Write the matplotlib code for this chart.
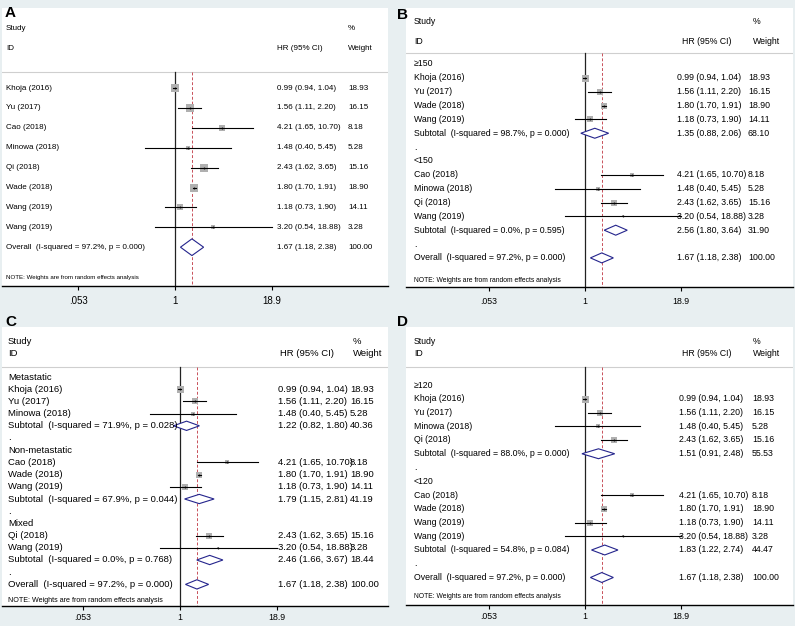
import numpy as np
import matplotlib
matplotlib.use("Agg")
import matplotlib.pyplot as plt
import matplotlib.transforms as mtransforms
from matplotlib.patches import Polygon
from matplotlib.ticker import NullLocator, FixedLocator, FixedFormatter

plt.rcParams['font.family'] = ['Liberation Sans', 'DejaVu Sans']

# ---------------- data ----------------
studies = ["Khoja (2016)", "Yu (2017)", "Cao (2018)", "Minowa (2018)",
           "Qi (2018)", "Wade (2018)", "Wang (2019)", "Wang (2019)"]
hr = [0.99, 1.56, 4.21, 1.48, 2.43, 1.80, 1.18, 3.20]
lo = [0.94, 1.11, 1.65, 0.40, 1.62, 1.70, 0.73, 0.54]
hi = [1.04, 2.20, 10.70, 5.45, 3.65, 1.91, 1.90, 18.88]
weight = [18.93, 16.15, 8.18, 5.28, 15.16, 18.90, 14.11, 3.28]

overall_hr, overall_lo, overall_hi, overall_w = 1.67, 1.18, 2.38, 100.00
overall_i2, overall_p = "97.2%", "0.000"

# panel A order
a_order = [0, 1, 2, 3, 4, 5, 6, 7]

# panel B
b_groups = ["\u2265150", "<150"]
b_members = [[0, 1, 5, 6], [2, 3, 4, 7]]
b_sub_hr = [1.35, 2.56]
b_sub_lo = [0.88, 1.80]
b_sub_hi = [2.06, 3.64]
b_sub_w = [68.10, 31.90]
b_sub_i2 = ["98.7%", "0.0%"]
b_sub_p = ["0.000", "0.595"]

# panel C
c_groups = ["Metastatic", "Non-metastatic", "Mixed"]
c_members = [[0, 1, 3], [2, 5, 6], [4, 7]]
c_sub_hr = [1.22, 1.79, 2.46]
c_sub_lo = [0.82, 1.15, 1.66]
c_sub_hi = [1.80, 2.81, 3.67]
c_sub_w = [40.36, 41.19, 18.44]
c_sub_i2 = ["71.9%", "67.9%", "0.0%"]
c_sub_p = ["0.028", "0.044", "0.768"]

# panel D
d_groups = ["\u2265120", "<120"]
d_members = [[0, 1, 3, 4], [2, 5, 6, 7]]
d_sub_hr = [1.51, 1.83]
d_sub_lo = [0.91, 1.22]
d_sub_hi = [2.48, 2.74]
d_sub_w = [55.53, 44.47]
d_sub_i2 = ["88.0%", "54.8%"]
d_sub_p = ["0.000", "0.084"]

tick_vals = [0.053, 1, 18.9]
tick_labels = [".053", "1", "18.9"]

# ---------------- layout ----------------
W, H = 795, 626
fig = plt.figure(figsize=(W / 100, H / 100), dpi=100)
fig.patch.set_facecolor('#e8eff1')

layouts = {
    'A': dict(box=(2, 8, 388, 286), letter=(5, 13), y0=88, s=19.9, study_y=28, id_y=48,
              line_y=72, note_y=277, null_x=175, ppl=33.0, fs=5.8, note_fs=4.4, tick_fs=7,
              x_id=6, x_hr=277, x_hrh=277, x_w=348, x_wh=348, dh=0.42, box_px=8.0, pad=4),
    'B': dict(box=(406, 8, 793, 287), letter=(397, 15), y0=64, s=13.85, study_y=22, id_y=42,
              line_y=53, note_y=280, null_x=585, ppl=32.7, fs=6.3, note_fs=4.9, tick_fs=6.3,
              x_id=414, x_hr=677, x_hrh=682, x_w=748, x_wh=753, dh=0.36, box_px=7.0, pad=4),
    'C': dict(box=(2, 327, 388, 606), letter=(5, 322), y0=377, s=12.2, study_y=341, id_y=353,
              line_y=367, note_y=600, null_x=180, ppl=33.0, fs=6.8, note_fs=5.1, tick_fs=6.3,
              x_id=8, x_hr=278, x_hrh=280, x_w=350, x_wh=353, dh=0.38, box_px=7.0, pad=2),
    'D': dict(box=(406, 327, 793, 605), letter=(397, 322), y0=385, s=13.75, study_y=341, id_y=353,
              line_y=367, note_y=597, null_x=585, ppl=32.7, fs=6.3, note_fs=4.9, tick_fs=6.3,
              x_id=414, x_hr=679, x_hrh=682, x_w=752, x_wh=753, dh=0.36, box_px=7.0, pad=2),
}


def ci_text(h, l, u):
    return f"{h:.2f} ({l:.2f}, {u:.2f})"


def build_rows_flat(order):
    rows = [('study', studies[i], hr[i], lo[i], hi[i], weight[i]) for i in order]
    rows.append(('overall', f"Overall  (I-squared = {overall_i2}, p = {overall_p})",
                 overall_hr, overall_lo, overall_hi, overall_w))
    return rows


def build_rows_groups(groups, members, shr, slo, shi, sw, si2, sp):
    rows = []
    for g, name in enumerate(groups):
        rows.append(('group', name, None, None, None, None))
        for i in members[g]:
            rows.append(('study', studies[i], hr[i], lo[i], hi[i], weight[i]))
        rows.append(('sub', f"Subtotal  (I-squared = {si2[g]}, p = {sp[g]})",
                     shr[g], slo[g], shi[g], sw[g]))
        rows.append(('blank', ".", None, None, None, None))
    rows.append(('overall', f"Overall  (I-squared = {overall_i2}, p = {overall_p})",
                 overall_hr, overall_lo, overall_hi, overall_w))
    return rows


def draw_panel(key, rows):
    lay = layouts[key]
    l, t, r, b = lay['box']
    ax = fig.add_axes([l / W, 1 - b / H, (r - l) / W, (b - t) / H])
    ax.set_facecolor('white')
    ax.set_xscale('log')
    ax.set_xlim(np.exp((l - lay['null_x']) / lay['ppl']), np.exp((r - lay['null_x']) / lay['ppl']))
    y0, s = lay['y0'], lay['s']

    def rowy(py):
        return (py - y0) / s

    ax.set_ylim(rowy(b), rowy(t))
    tr = mtransforms.blended_transform_factory(ax.transAxes, ax.transData)

    def fx(px):
        return (px - l) / (r - l)

    fs = lay['fs']
    ax.text(fx(lay['x_id']), rowy(lay['study_y']), "Study", transform=tr, va='center', ha='left', fontsize=fs)
    ax.text(fx(lay['x_id']), rowy(lay['id_y']), "ID", transform=tr, va='center', ha='left', fontsize=fs)
    ax.text(fx(lay['x_hrh']), rowy(lay['id_y']), "HR (95% CI)", transform=tr, va='center', ha='left', fontsize=fs)
    ax.text(fx(lay['x_wh']), rowy(lay['study_y']), "%", transform=tr, va='center', ha='left', fontsize=fs)
    ax.text(fx(lay['x_wh']), rowy(lay['id_y']), "Weight", transform=tr, va='center', ha='left', fontsize=fs)
    ax.axhline(rowy(lay['line_y']), color='#cfcfcf', lw=0.8)

    ax.plot([1, 1], [rowy(lay['line_y']), rowy(b)], color='#222222', lw=0.9, zorder=2)
    ax.plot([overall_hr, overall_hr], [rowy(lay['line_y']), rowy(b)], color='#c8505a', lw=0.7,
            ls=(0, (3, 2)), zorder=2)

    for k, (kind, label, h, lw_, hw, w) in enumerate(rows):
        y = k
        ax.text(fx(lay['x_id']), y, label, transform=tr, va='center', ha='left', fontsize=fs, zorder=5)
        if kind == 'study':
            side_pt = lay['box_px'] * np.sqrt(w / 18.93) * 0.72
            ax.scatter([h], [y], marker='s', s=side_pt ** 2, color='#b0b0b0', linewidths=0, zorder=3)
            ax.plot([lw_, hw], [y, y], color='black', lw=0.8, zorder=4)
            ax.scatter([h], [y], marker='o', s=1.8, color='black', linewidths=0, zorder=5)
        if kind in ('sub', 'overall'):
            dh = lay['dh']
            poly = Polygon([(lw_, y), (h, y - dh), (hw, y), (h, y + dh)], closed=True,
                           facecolor='white', edgecolor='#24248c', lw=0.8, zorder=4)
            ax.add_patch(poly)
        if kind in ('study', 'sub', 'overall'):
            ax.text(fx(lay['x_hr']), y, ci_text(h, lw_, hw), transform=tr, va='center', ha='left', fontsize=fs)
            ax.text(fx(lay['x_w']), y, f"{w:.2f}", transform=tr, va='center', ha='left', fontsize=fs)

    ax.text(fx(lay['x_id']), rowy(lay['note_y']), "NOTE: Weights are from random effects analysis",
            transform=tr, va='center', ha='left', fontsize=lay['note_fs'])

    for sp_ in ('top', 'left', 'right'):
        ax.spines[sp_].set_visible(False)
    ax.spines['bottom'].set_linewidth(1.0)
    ax.xaxis.set_major_locator(FixedLocator(tick_vals))
    ax.xaxis.set_major_formatter(FixedFormatter(tick_labels))
    ax.xaxis.set_minor_locator(NullLocator())
    ax.set_yticks([])
    ax.tick_params(axis='x', length=3, width=0.8, pad=lay['pad'], labelsize=lay['tick_fs'])

    lx, ly = lay['letter']
    fig.text(lx / W, 1 - ly / H, key, fontsize=11, fontweight='bold', ha='left', va='center')


draw_panel('A', build_rows_flat(a_order))
draw_panel('B', build_rows_groups(b_groups, b_members, b_sub_hr, b_sub_lo, b_sub_hi, b_sub_w, b_sub_i2, b_sub_p))
draw_panel('C', build_rows_groups(c_groups, c_members, c_sub_hr, c_sub_lo, c_sub_hi, c_sub_w, c_sub_i2, c_sub_p))
draw_panel('D', build_rows_groups(d_groups, d_members, d_sub_hr, d_sub_lo, d_sub_hi, d_sub_w, d_sub_i2, d_sub_p))

fig.savefig("out.png", dpi=100, facecolor=fig.get_facecolor())
